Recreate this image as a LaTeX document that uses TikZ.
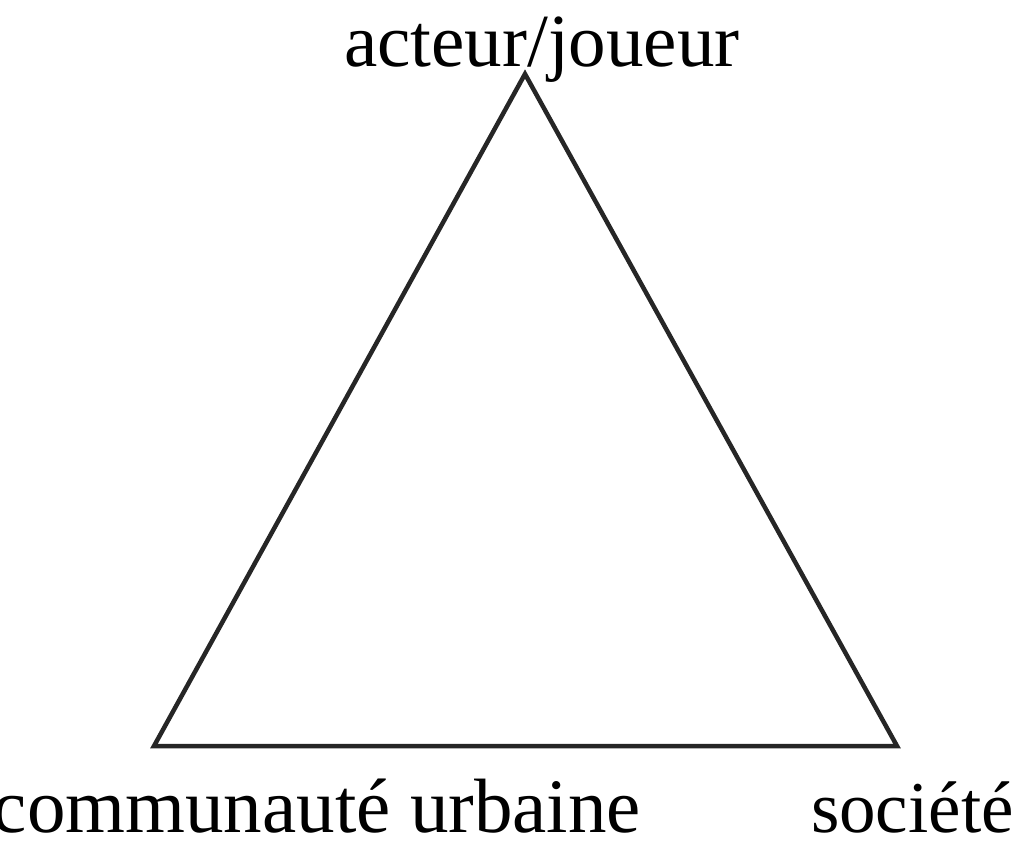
\documentclass[tikz,border=0pt]{standalone}
\usepackage{fontspec}
\setmainfont{Liberation Serif}
\begin{document}
\begin{tikzpicture}[x=1pt,y=-1pt,
  lbl/.style={anchor=base west,inner sep=0pt,outer sep=0pt,text=black},
  edge/.style={draw=black!85,line width=4.5pt,line join=miter}]
\useasboundingbox (0,0) rectangle (1028,848);
\coordinate (top) at (525,74);
\coordinate (bl) at (154,746);
\coordinate (br) at (897,746);
\draw[edge] (top) -- (br) -- (bl) -- cycle;
\node[lbl,font=\fontsize{75}{80}\selectfont] (acteur) at (344,67) {acteur/joueur};
\node[lbl,font=\fontsize{77}{80}\selectfont] (comm) at (-7,832) {communauté urbaine};
\node[lbl,font=\fontsize{73}{80}\selectfont] (soc) at (811,832) {société};
\end{tikzpicture}
\end{document}
